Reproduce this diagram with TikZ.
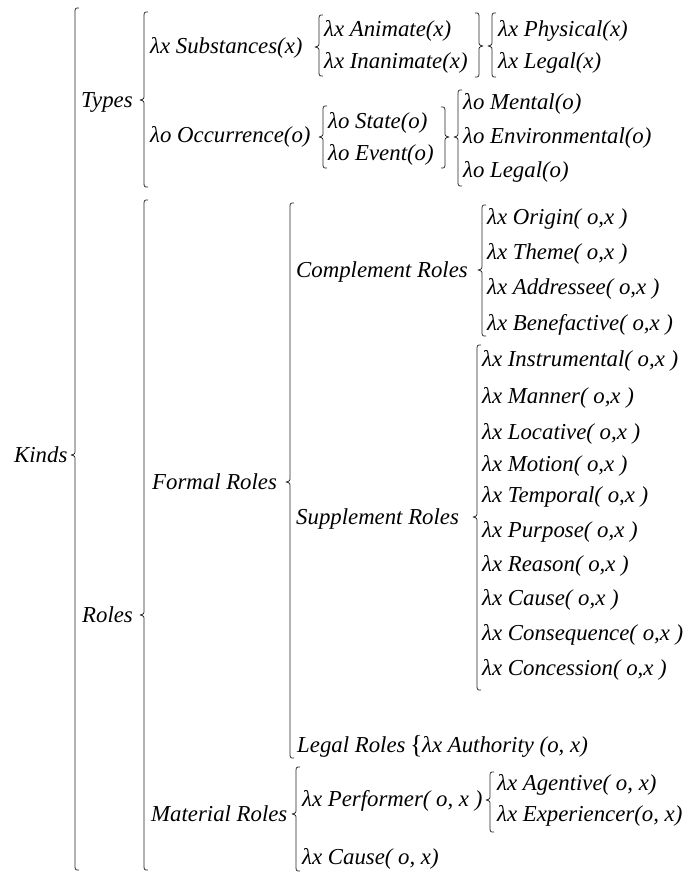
\documentclass[tikz,border=0pt]{standalone}
\usepackage{fontspec}
\setmainfont{Liberation Serif}
\tikzset{
  lbl/.style={anchor=base west, inner sep=0pt, font=\fontsize{22.8}{27}\selectfont\itshape},
  brc/.style={line width=0.75pt, black!85, line join=round}
}
% left brace: x, top, bottom, tip
\newcommand\LBr[4]{\draw[brc] (#1+4,#2) .. controls (#1,#2) .. (#1,#2+6) -- (#1,#4-5) .. controls (#1,#4-1) .. (#1-4,#4) .. controls (#1,#4+1) .. (#1,#4+5) -- (#1,#3-6) .. controls (#1,#3) .. (#1+4,#3);}
% right brace: x, top, bottom, tip
\newcommand\RBr[4]{\draw[brc] (#1-4,#2) .. controls (#1,#2) .. (#1,#2+6) -- (#1,#4-5) .. controls (#1,#4-1) .. (#1+4,#4) .. controls (#1,#4+1) .. (#1,#4+5) -- (#1,#3-6) .. controls (#1,#3) .. (#1-4,#3);}
\begin{document}
\begin{tikzpicture}[x=1pt,y=-1pt]
\useasboundingbox (0,0) rectangle (696,873);
% level 0
\node[lbl] (kinds) at (14,462) {Kinds};
\LBr{75}{8}{870}{455}
% Types
\node[lbl] (types) at (81,107) {Types};
\LBr{144}{12}{187}{100}
\node[lbl] (subs) at (150,53) {λx Substances(x)};
\LBr{319}{15}{76}{47}
\node[lbl] (anim) at (324,36) {λx Animate(x)};
\node[lbl] (inan) at (324,68) {λx Inanimate(x)};
\RBr{479}{13}{77}{46}
\LBr{492}{13}{77}{46}
\node[lbl] (phys) at (498,36) {λx Physical(x)};
\node[lbl] (legx) at (498,68) {λx Legal(x)};
\node[lbl] (occ) at (150,142) {λo Occurrence(o)};
\LBr{323}{106}{168}{137}
\node[lbl] (state) at (328,128) {λo State(o)};
\node[lbl] (event) at (328,160) {λo Event(o)};
\RBr{445}{107}{168}{137}
\LBr{458}{90}{186}{137}
\node[lbl] (mental) at (463,109) {λo Mental(o)};
\node[lbl] (env) at (463,143) {λo Environmental(o)};
\node[lbl] (lego) at (463,177) {λo Legal(o)};
% Roles
\node[lbl] (roles) at (82,622) {Roles};
\LBr{144}{200}{870}{615}
\node[lbl] (formal) at (152,489) {Formal Roles};
\LBr{290}{203}{758}{482}
\node[lbl] (compl) at (296,277) {Complement Roles};
\LBr{482}{205}{336}{270}
\node[lbl] (origin) at (487,224) {λx Origin( o,x )};
\node[lbl] (theme) at (487,259) {λx Theme( o,x )};
\node[lbl] (addr) at (487,294) {λx Addressee( o,x )};
\node[lbl] (bene) at (487,330) {λx Benefactive( o,x )};
\node[lbl] (suppl) at (296,524) {Supplement Roles};
\LBr{477}{345}{690}{517}
\node[lbl] (instr) at (482,366) {λx Instrumental( o,x )};
\node[lbl] (manner) at (482,403) {λx Manner( o,x )};
\node[lbl] (loc) at (482,439) {λx Locative( o,x )};
\node[lbl] (motion) at (482,471) {λx Motion( o,x )};
\node[lbl] (temp) at (482,502) {λx Temporal( o,x )};
\node[lbl] (purp) at (482,537) {λx Purpose( o,x )};
\node[lbl] (reason) at (482,571) {λx Reason( o,x )};
\node[lbl] (cause1) at (482,605) {λx Cause( o,x )};
\node[lbl] (conseq) at (482,640) {λx Consequence( o,x )};
\node[lbl] (conc) at (482,675) {λx Concession( o,x )};
\node[lbl] (legal) at (297,752) {Legal Roles};
\node[lbl, font=\fontsize{26}{30}\selectfont] (lbrace) at (410,753) {\{};
\node[lbl] (auth) at (422,752) {λx Authority (o, x)};
\node[lbl] (mater) at (151,821) {Material Roles};
\LBr{296}{767}{871}{814}
\node[lbl] (perf) at (302,806) {λx Performer( o, x )};
\LBr{490}{772}{832}{800}
\node[lbl] (agent) at (497,790) {λx Agentive( o, x)};
\node[lbl] (exper) at (497,821) {λx Experiencer(o, x)};
\node[lbl] (cause2) at (302,864) {λx Cause( o, x)};
\end{tikzpicture}
\end{document}
